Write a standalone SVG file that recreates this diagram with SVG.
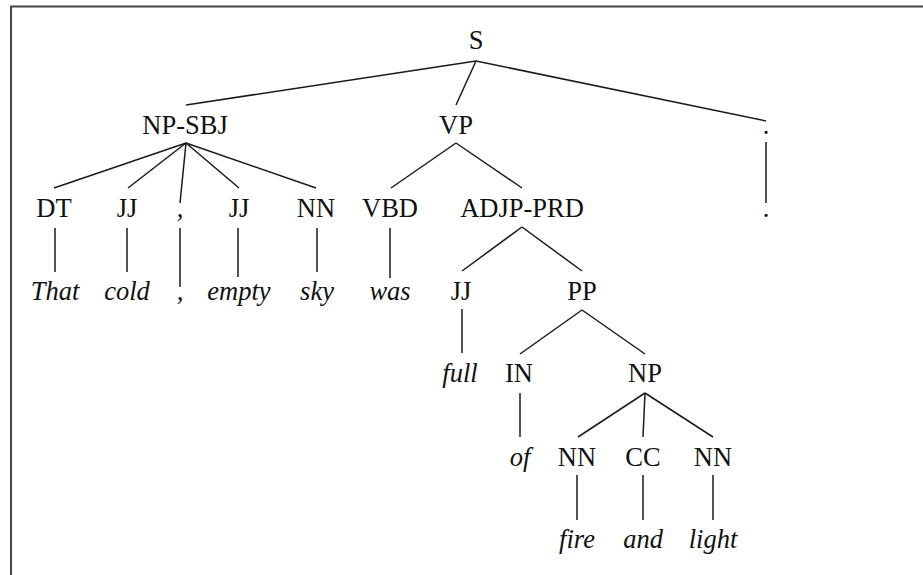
<svg xmlns="http://www.w3.org/2000/svg" width="923" height="575" viewBox="0 0 923 575">
  <style>
    .lbl { font-family: "Liberation Serif", "Times New Roman", serif; font-size: 26.5px; fill: #111; text-anchor: middle; }
    .word { font-style: italic; }
    .edge { stroke: #1a1a1a; stroke-width: 1.5; fill: none; stroke-linecap: butt; }
    .frame { stroke: #444; stroke-width: 2; fill: none; }
  </style>
  <rect x="0" y="0" width="923" height="575" fill="#fff"/>
  <!-- frame: only top and left edges fall inside the canvas -->
  <path class="frame" d="M11,580 V6.5 H930"/>

  <g id="connectors">
    <!-- S -->
    <line class="edge" x1="476" y1="61" x2="186" y2="105"/>
    <line class="edge" x1="476" y1="61" x2="456" y2="105"/>
    <line class="edge" x1="476" y1="61" x2="766" y2="121"/>
    <!-- NP-SBJ -->
    <line class="edge" x1="186" y1="143" x2="54" y2="188"/>
    <line class="edge" x1="186" y1="143" x2="128" y2="188"/>
    <line class="edge" x1="186" y1="143" x2="180" y2="203"/>
    <line class="edge" x1="186" y1="143" x2="239" y2="188"/>
    <line class="edge" x1="186" y1="143" x2="316" y2="188"/>
    <!-- VP -->
    <line class="edge" x1="456" y1="143" x2="391" y2="188"/>
    <line class="edge" x1="456" y1="143" x2="522" y2="188"/>
    <!-- . -->
    <line class="edge" x1="766" y1="142" x2="766" y2="203"/>
    <!-- preterminals to words, row 3 -->
    <line class="edge" x1="55" y1="228" x2="55" y2="272"/>
    <line class="edge" x1="127" y1="228" x2="127" y2="272"/>
    <line class="edge" x1="180" y1="228" x2="180" y2="287"/>
    <line class="edge" x1="238" y1="228" x2="238" y2="277"/>
    <line class="edge" x1="317" y1="228" x2="317" y2="272"/>
    <line class="edge" x1="390" y1="228" x2="390" y2="278"/>
    <!-- ADJP-PRD -->
    <line class="edge" x1="522" y1="227" x2="462" y2="271"/>
    <line class="edge" x1="522" y1="227" x2="582" y2="271"/>
    <!-- JJ -> full -->
    <line class="edge" x1="462" y1="309" x2="462" y2="353"/>
    <!-- PP -->
    <line class="edge" x1="582" y1="310" x2="520" y2="354"/>
    <line class="edge" x1="582" y1="310" x2="645" y2="354"/>
    <!-- IN -> of -->
    <line class="edge" x1="520" y1="393" x2="520" y2="437"/>
    <!-- NP -->
    <line class="edge" x1="645" y1="393" x2="578" y2="437"/>
    <line class="edge" x1="645" y1="393" x2="643" y2="437"/>
    <line class="edge" x1="645" y1="393" x2="713" y2="437"/>
    <!-- row 5 to words -->
    <line class="edge" x1="577" y1="475" x2="577" y2="520"/>
    <line class="edge" x1="643" y1="475" x2="643" y2="520"/>
    <line class="edge" x1="713" y1="475" x2="713" y2="520"/>
  </g>

  <g id="n-S"><text class="lbl" x="476" y="49">S</text></g>
  <g id="n-NP-SBJ"><text class="lbl" x="185" y="134">NP-SBJ</text></g>
  <g id="n-VP"><text class="lbl" x="456" y="134">VP</text></g>
  <g id="n-period-tag"><text class="lbl" x="766" y="134">.</text></g>

  <g id="n-DT"><text class="lbl" x="54" y="217">DT</text></g>
  <g id="n-JJ1"><text class="lbl" x="127" y="217">JJ</text></g>
  <g id="n-comma-tag"><text class="lbl" x="180" y="217">,</text></g>
  <g id="n-JJ2"><text class="lbl" x="239" y="217">JJ</text></g>
  <g id="n-NN1"><text class="lbl" x="316" y="217">NN</text></g>
  <g id="n-VBD"><text class="lbl" x="390" y="217">VBD</text></g>
  <g id="n-ADJP-PRD"><text class="lbl" x="522" y="217">ADJP-PRD</text></g>
  <g id="w-period"><text class="lbl" x="766" y="217">.</text></g>

  <g id="w-That"><text class="lbl word" x="55" y="300">That</text></g>
  <g id="w-cold"><text class="lbl word" x="127" y="300">cold</text></g>
  <g id="w-comma"><text class="lbl word" x="180" y="300">,</text></g>
  <g id="w-empty"><text class="lbl word" x="239" y="300">empty</text></g>
  <g id="w-sky"><text class="lbl word" x="317" y="300">sky</text></g>
  <g id="w-was"><text class="lbl word" x="390" y="300">was</text></g>
  <g id="n-JJ3"><text class="lbl" x="461" y="300">JJ</text></g>
  <g id="n-PP"><text class="lbl" x="582" y="300">PP</text></g>

  <g id="w-full"><text class="lbl word" x="460" y="382">full</text></g>
  <g id="n-IN"><text class="lbl" x="519" y="382">IN</text></g>
  <g id="n-NP"><text class="lbl" x="645" y="382">NP</text></g>

  <g id="w-of"><text class="lbl word" x="520" y="466">of</text></g>
  <g id="n-NN2"><text class="lbl" x="577" y="466">NN</text></g>
  <g id="n-CC"><text class="lbl" x="643" y="466">CC</text></g>
  <g id="n-NN3"><text class="lbl" x="713" y="466">NN</text></g>

  <g id="w-fire"><text class="lbl word" x="577" y="548">fire</text></g>
  <g id="w-and"><text class="lbl word" x="643" y="548">and</text></g>
  <g id="w-light"><text class="lbl word" x="713" y="548">light</text></g>
</svg>
